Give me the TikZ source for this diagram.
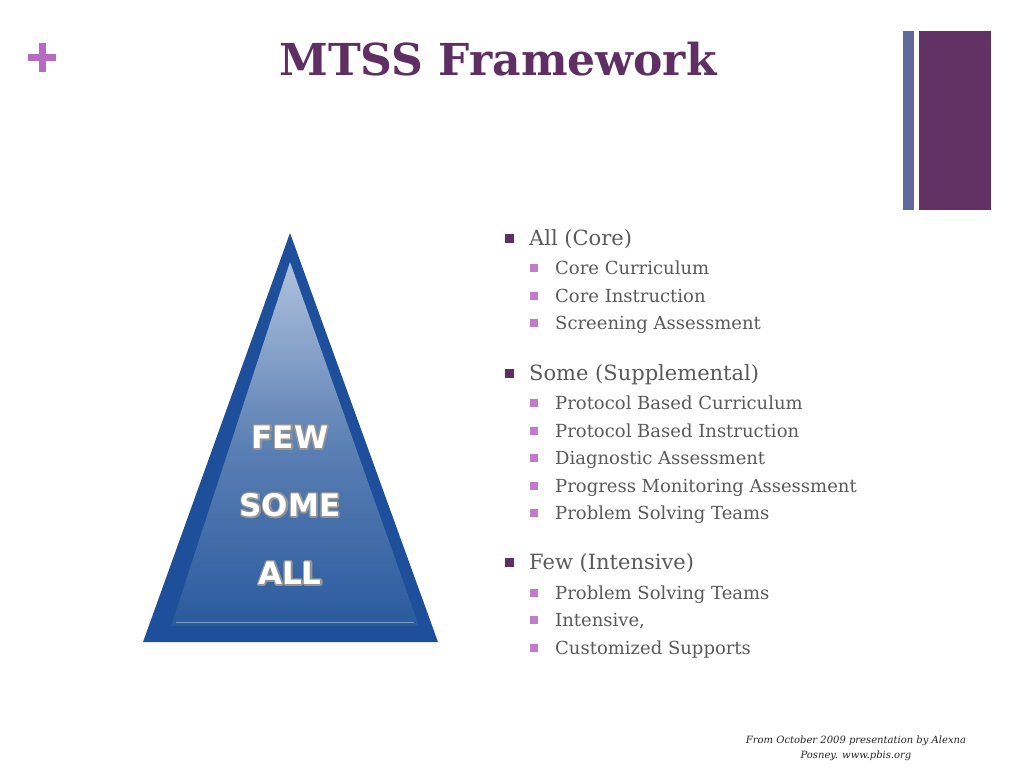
\documentclass[tikz,border=0pt]{standalone}
\usepackage{fontspec}
\setmainfont{DejaVu Serif}
\newfontfamily\trifont{DejaVu Sans}
\usetikzlibrary{shapes.geometric,calc}
\definecolor{titlepurple}{HTML}{5F2F63}
\definecolor{pluspurple}{HTML}{B56CC0}
\definecolor{thinbar}{HTML}{62689C}
\definecolor{widebar}{HTML}{633264}
\definecolor{mainbul}{HTML}{5E2F63}
\definecolor{subbul}{HTML}{C27ACB}
\definecolor{bodygray}{HTML}{5A5A5A}
\definecolor{tridark}{HTML}{1D4F9A}
\definecolor{trilight}{HTML}{AFC2DD}
\definecolor{trimid}{HTML}{5B80B4}
\definecolor{tribottom}{HTML}{2A5A9D}
\newcommand{\outlinedtext}[1]{\rlap{\special{pdf:literal direct 1 Tr 0.58 0.58 0.58 RG 3.2 w 1 j}#1\special{pdf:literal direct 0 Tr}}#1}
\tikzset{
  mainitem/.style={anchor=base west, inner sep=0pt, text=bodygray, font=\fontsize{21}{25}\selectfont},
  subitem/.style={anchor=base west, inner sep=0pt, text=bodygray, font=\fontsize{18}{22}\selectfont},
  mainbullet/.style={rectangle, fill=mainbul, minimum size=9pt, inner sep=0pt},
  subbullet/.style={rectangle, fill=subbul, minimum size=8pt, inner sep=0pt},
  tritext/.style={inner sep=0pt, text=white, font=\trifont\bfseries\fontsize{31}{36}\selectfont},
  footer/.style={inner sep=0pt, text=black!85, font=\itshape\fontsize{10}{15}\selectfont}
}
\begin{document}
\begin{tikzpicture}[x=1pt,y=-1pt]
\useasboundingbox (0,0) rectangle (1024,768);
\fill[white] (0,0) rectangle (1024,768);

% plus sign
\fill[pluspurple] (28,54) rectangle (56,61);
\fill[pluspurple] (38.5,43) rectangle (45.5,72);

% title
\node[anchor=base, inner sep=0pt, text=titlepurple, font=\bfseries\fontsize{44}{50}\selectfont] (title) at (498,75) {MTSS Framework};

% right bars
\fill[thinbar] (903,31) rectangle (914,210);
\fill[widebar] (919,31) rectangle (991,210);

% triangle
\fill[tridark] (290,233) -- (143,642) -- (438,642) -- cycle;
\shade[top color=trilight, bottom color=tribottom, middle color=trimid] (290,262) -- (171,626) -- (419,626) -- cycle;
\draw[white!40!tribottom, line width=0.8pt] (176,622) -- (414,622);

% triangle texts with outline
\node[tritext] (few) at (290,437) {\outlinedtext{FEW}};
\node[tritext] (some) at (290,505) {\outlinedtext{SOME}};
\node[tritext] (all) at (290,573) {\outlinedtext{ALL}};

% list
\node[mainbullet] (b1) at (509.5,238.5) {};
\node[mainitem] (m1) at (529,245) {All (Core)};
\node[subbullet] (s11b) at (534,268) {};
\node[subitem] (s11) at (555,274) {Core Curriculum};
\node[subbullet] (s12b) at (534,296) {};
\node[subitem] (s12) at (555,302) {Core Instruction};
\node[subbullet] (s13b) at (534,323) {};
\node[subitem] (s13) at (555,329) {Screening Assessment};

\node[mainbullet] (b2) at (509.5,373.5) {};
\node[mainitem] (m2) at (529,380) {Some (Supplemental)};
\node[subbullet] (s21b) at (534,403) {};
\node[subitem] (s21) at (555,409) {Protocol Based Curriculum};
\node[subbullet] (s22b) at (534,431) {};
\node[subitem] (s22) at (555,437) {Protocol Based Instruction};
\node[subbullet] (s23b) at (534,458) {};
\node[subitem] (s23) at (555,464) {Diagnostic Assessment};
\node[subbullet] (s24b) at (534,486) {};
\node[subitem] (s24) at (555,492) {Progress Monitoring Assessment};
\node[subbullet] (s25b) at (534,513) {};
\node[subitem] (s25) at (555,519) {Problem Solving Teams};

\node[mainbullet] (b3) at (509.5,562.5) {};
\node[mainitem] (m3) at (529,569) {Few (Intensive)};
\node[subbullet] (s31b) at (534,593) {};
\node[subitem] (s31) at (555,599) {Problem Solving Teams};
\node[subbullet] (s32b) at (534,620) {};
\node[subitem] (s32) at (555,626) {Intensive,};
\node[subbullet] (s33b) at (534,648) {};
\node[subitem] (s33) at (555,654) {Customized Supports};

% footer
\node[footer, anchor=base] (f1) at (856,743) {From October 2009 presentation by Alexna};
\node[footer, anchor=base] (f2) at (856,758) {Posney. www.pbis.org};
\end{tikzpicture}
\end{document}
